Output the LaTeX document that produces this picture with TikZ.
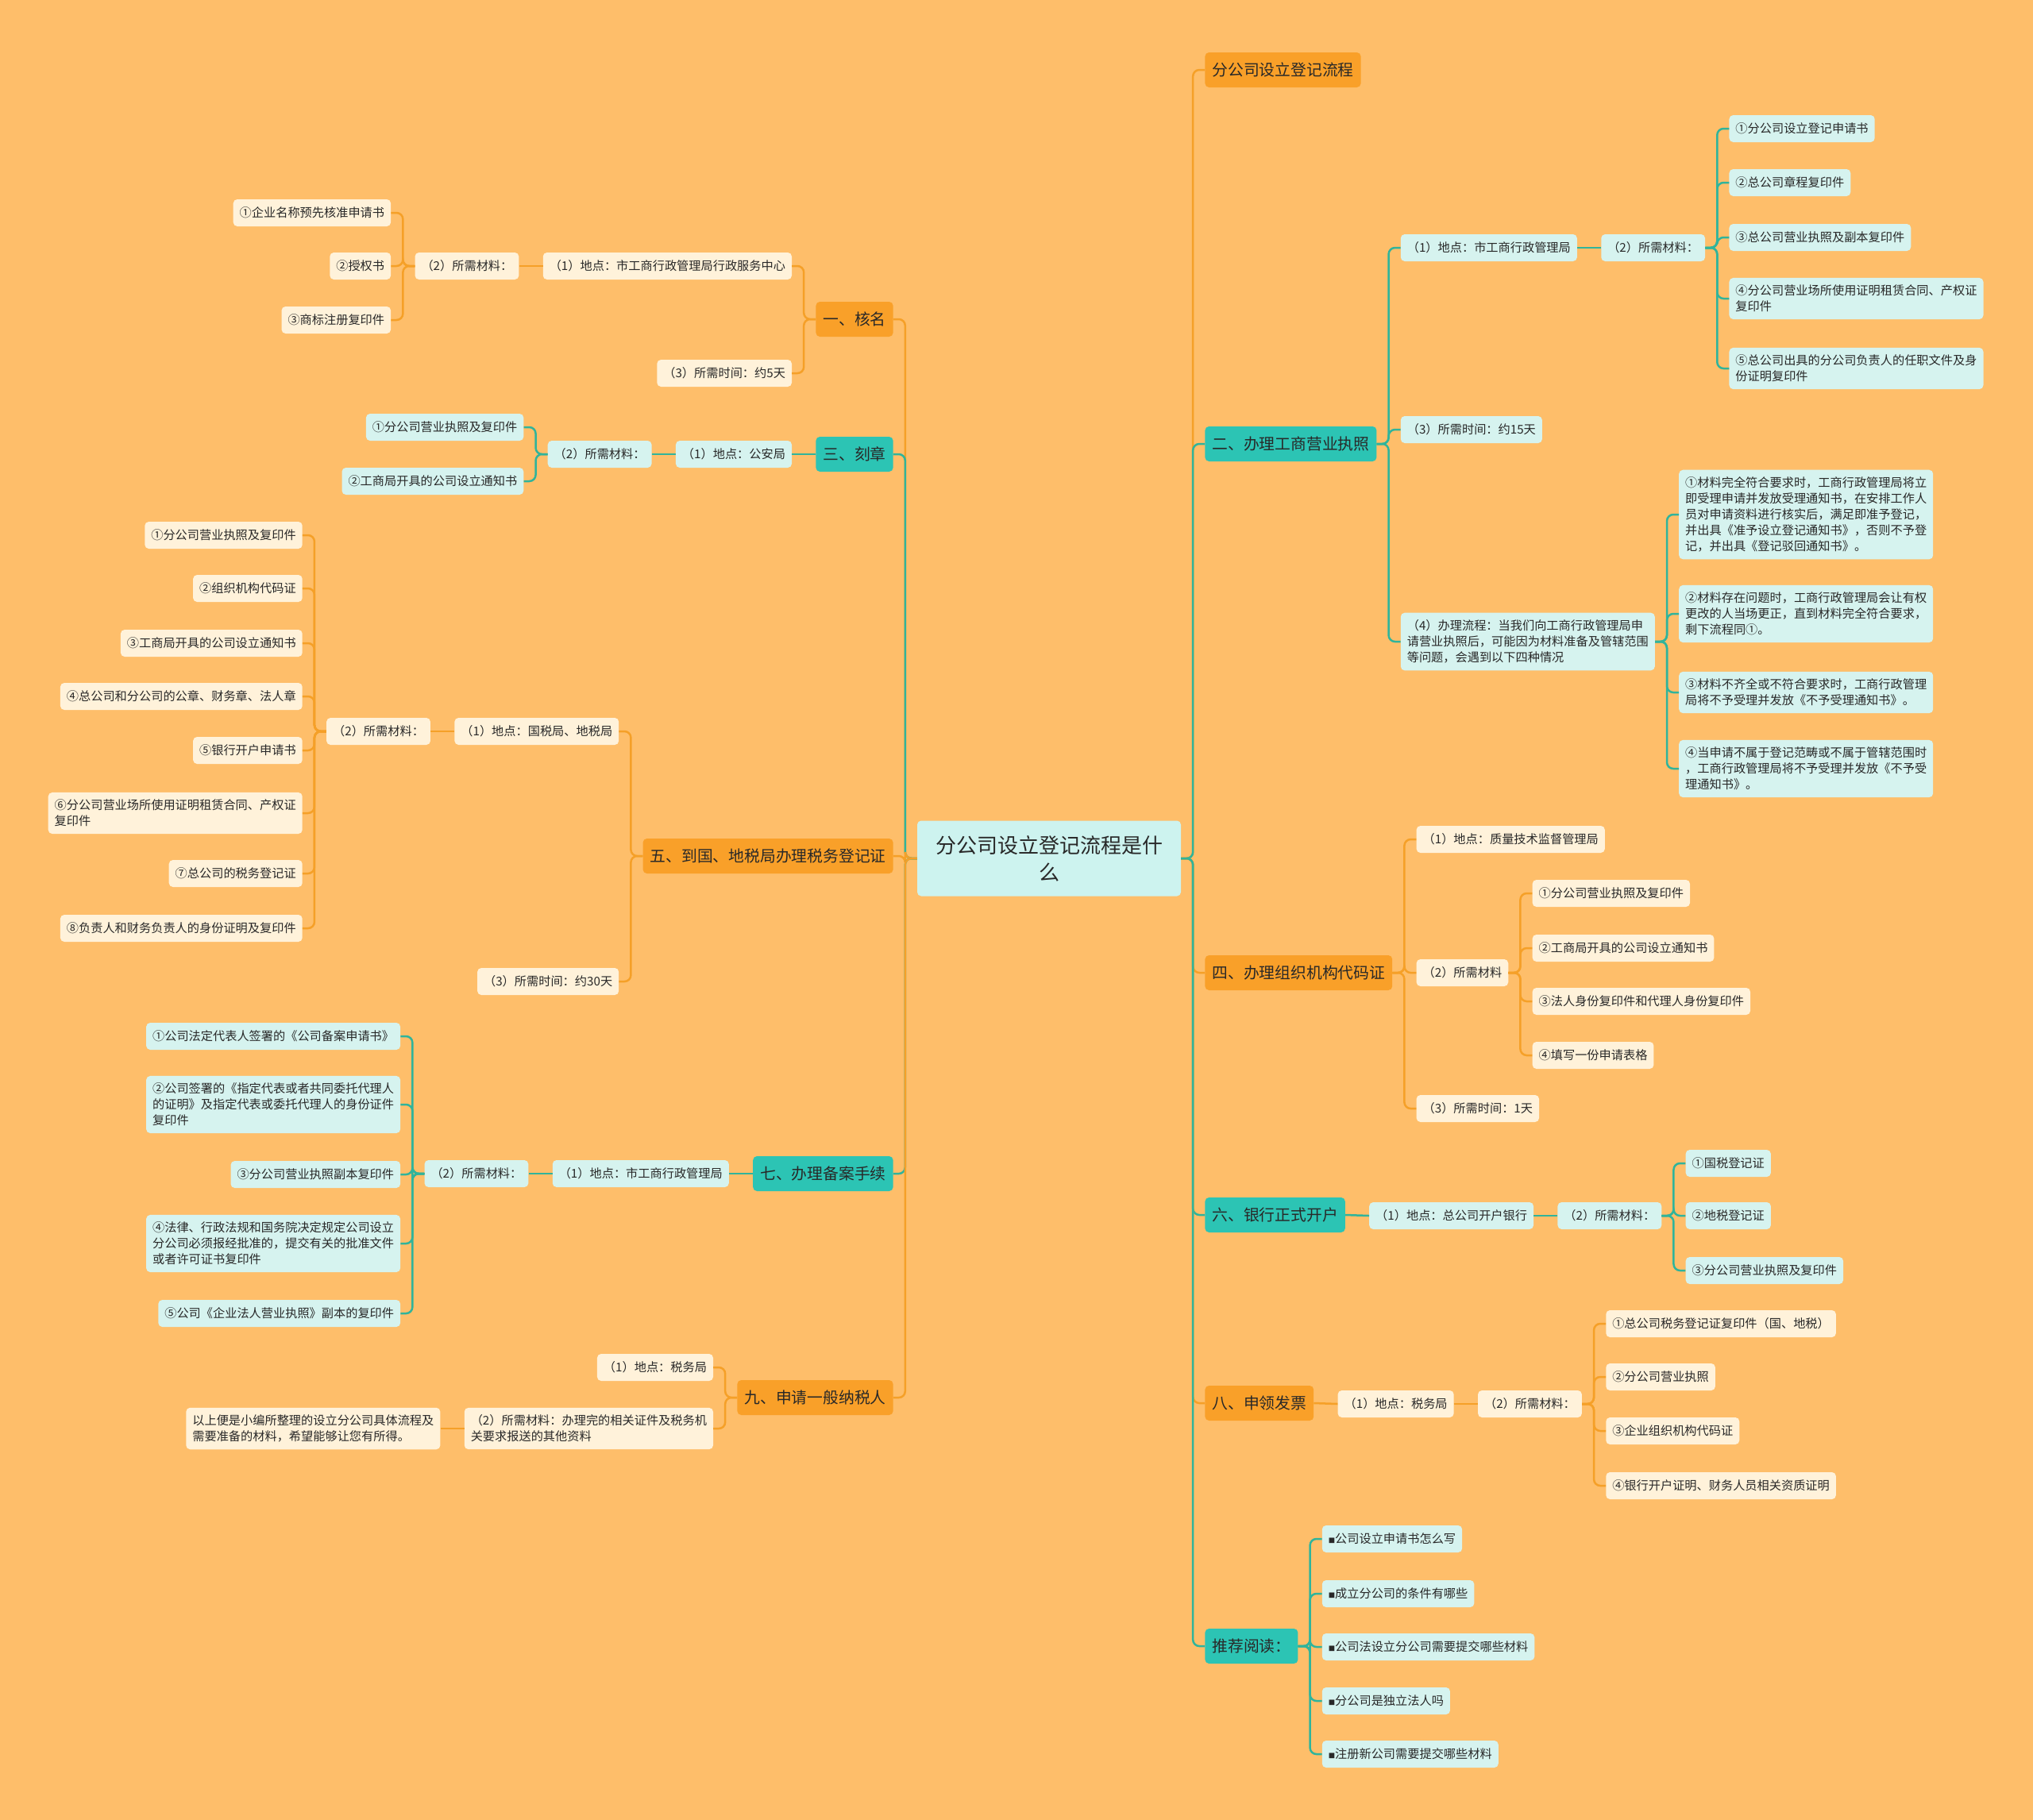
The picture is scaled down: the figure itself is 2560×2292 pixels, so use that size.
\documentclass[tikz,border=0pt]{standalone}
\usepackage{fontspec}
\setmainfont{Noto Sans CJK SC}
\usetikzlibrary{positioning,calc}

\definecolor{paper}{RGB}{254,190,106}
\definecolor{orangenode}{RGB}{249,160,41}
\definecolor{tealnode}{RGB}{44,196,180}
\definecolor{orangeline}{RGB}{245,160,40}
\definecolor{tealline}{RGB}{48,180,155}
\definecolor{creamfill}{RGB}{255,242,218}
\definecolor{mintfill}{RGB}{214,243,239}
\definecolor{rootfill}{RGB}{205,243,239}
\definecolor{ink}{RGB}{40,40,40}

\newcommand{\blt}{\scalebox{0.55}{■}}

\begin{document}
\begin{tikzpicture}[
    x=1pt, y=-1pt,
    font=\fontsize{15.2}{20}\selectfont,
    box/.style={rounded corners=5pt, text=ink, inner xsep=8pt, inner ysep=9pt,
                minimum height=34pt, align=left},
    rootbox/.style={box, fill=rootfill, font=\fontsize{26}{34}\selectfont,
                    minimum width=332pt, minimum height=95pt, align=center},
    topo/.style={box, fill=orangenode, font=\fontsize{19.8}{24}\selectfont,
                 minimum height=44pt, inner xsep=9pt, inner ysep=6pt},
    topt/.style={topo, fill=tealnode},
    leafo/.style={box, fill=creamfill},
    leaft/.style={box, fill=mintfill},
    lo/.style={draw=orangeline, line width=2.5pt, rounded corners=8pt},
    lt/.style={lo, draw=tealline},
  ]
    \fill[paper] (0,0) rectangle (2560,2292);
    \useasboundingbox (0,0) rectangle (2560,2292);

    % Central hub
    \node[rootbox] (flow) at (1321,1081) {分公司设立登记流程是什\\么};

    % Right branches
    \node[topo, anchor=west] (reg)  at ($(flow.east |- 0,88)+(30,0)$)   {分公司设立登记流程};
    \node[topt, anchor=west] (lic)  at ($(flow.east |- 0,559)+(30,0)$)  {二、办理工商营业执照};
    \node[topo, anchor=west] (org)  at ($(flow.east |- 0,1225)+(30,0)$) {四、办理组织机构代码证};
    \node[topt, anchor=west] (bank) at ($(flow.east |- 0,1530)+(30,0)$) {六、银行正式开户};
    \node[topo, anchor=west] (inv)  at ($(flow.east |- 0,1767)+(30,0)$) {八、申领发票};
    \node[topt, anchor=west] (read) at ($(flow.east |- 0,2073)+(30,0)$) {推荐阅读：};

    % Left branches
    \node[topo, anchor=east] (name) at ($(flow.west |- 0,402)+(-30,0)$)  {一、核名};
    \node[topt, anchor=east] (seal) at ($(flow.west |- 0,572)+(-30,0)$)  {三、刻章};
    \node[topo, anchor=east] (tax)  at ($(flow.west |- 0,1078)+(-30,0)$) {五、到国、地税局办理税务登记证};
    \node[topt, anchor=east] (file) at ($(flow.west |- 0,1478)+(-30,0)$) {七、办理备案手续};
    \node[topo, anchor=east] (vat)  at ($(flow.west |- 0,1760)+(-30,0)$) {九、申请一般纳税人};

    % Business licence
    \node[leaft, anchor=west] (lic1)  at ($(lic.east |- 0,312)+(30,0)$)   {（1）地点：市工商行政管理局};
    \node[leaft, anchor=west] (lic2)  at ($(lic1.east)+(30,0)$)            {（2）所需材料：};
    \node[leaft, anchor=west] (lic2a) at ($(lic2.east |- 0,162)+(30,0)$)  {①分公司设立登记申请书};
    \node[leaft, anchor=west] (lic2b) at ($(lic2.east |- 0,230)+(30,0)$)  {②总公司章程复印件};
    \node[leaft, anchor=west] (lic2c) at ($(lic2.east |- 0,299)+(30,0)$)  {③总公司营业执照及副本复印件};
    \node[leaft, anchor=west] (lic2d) at ($(lic2.east |- 0,376)+(30,0)$)  {④分公司营业场所使用证明租赁合同、产权证\\复印件};
    \node[leaft, anchor=west] (lic2e) at ($(lic2.east |- 0,464)+(30,0)$)  {⑤总公司出具的分公司负责人的任职文件及身\\份证明复印件};
    \node[leaft, anchor=west] (lic3)  at ($(lic.east |- 0,541)+(30,0)$)   {（3）所需时间：约15天};
    \node[leaft, anchor=west] (lic4)  at ($(lic.east |- 0,808)+(30,0)$)
        {（4）办理流程：当我们向工商行政管理局申\\请营业执照后，可能因为材料准备及管辖范围\\等问题，会遇到以下四种情况};
    \node[leaft, anchor=west] (lic4a) at ($(lic4.east |- 0,648)+(30,0)$)
        {①材料完全符合要求时，工商行政管理局将立\\即受理申请并发放受理通知书，在安排工作人\\员对申请资料进行核实后，满足即准予登记，\\并出具《准予设立登记通知书》，否则不予登\\记，并出具《登记驳回通知书》。};
    \node[leaft, anchor=west] (lic4b) at ($(lic4.east |- 0,773)+(30,0)$)
        {②材料存在问题时，工商行政管理局会让有权\\更改的人当场更正，直到材料完全符合要求，\\剩下流程同①。};
    \node[leaft, anchor=west] (lic4c) at ($(lic4.east |- 0,872)+(30,0)$)
        {③材料不齐全或不符合要求时，工商行政管理\\局将不予受理并发放《不予受理通知书》。};
    \node[leaft, anchor=west] (lic4d) at ($(lic4.east |- 0,968)+(30,0)$)
        {④当申请不属于登记范畴或不属于管辖范围时\\，工商行政管理局将不予受理并发放《不予受\\理通知书》。};

    % Organisation code
    \node[leafo, anchor=west] (org1)  at ($(org.east |- 0,1057)+(30,0)$)  {（1）地点：质量技术监督管理局};
    \node[leafo, anchor=west] (org2)  at ($(org.east |- 0,1225)+(30,0)$)  {（2）所需材料};
    \node[leafo, anchor=west] (org2a) at ($(org2.east |- 0,1125)+(30,0)$) {①分公司营业执照及复印件};
    \node[leafo, anchor=west] (org2b) at ($(org2.east |- 0,1194)+(30,0)$) {②工商局开具的公司设立通知书};
    \node[leafo, anchor=west] (org2c) at ($(org2.east |- 0,1261)+(30,0)$) {③法人身份复印件和代理人身份复印件};
    \node[leafo, anchor=west] (org2d) at ($(org2.east |- 0,1329)+(30,0)$) {④填写一份申请表格};
    \node[leafo, anchor=west] (org3)  at ($(org.east |- 0,1396)+(30,0)$)  {（3）所需时间：1天};

    % Bank account
    \node[leaft, anchor=west] (bank1)  at ($(bank.east |- 0,1531)+(30,0)$)  {（1）地点：总公司开户银行};
    \node[leaft, anchor=west] (bank2)  at ($(bank1.east)+(30,0)$)            {（2）所需材料：};
    \node[leaft, anchor=west] (bank2a) at ($(bank2.east |- 0,1465)+(30,0)$) {①国税登记证};
    \node[leaft, anchor=west] (bank2b) at ($(bank2.east |- 0,1531)+(30,0)$) {②地税登记证};
    \node[leaft, anchor=west] (bank2c) at ($(bank2.east |- 0,1600)+(30,0)$) {③分公司营业执照及复印件};

    % Invoices
    \node[leafo, anchor=west] (inv1)  at ($(inv.east |- 0,1768)+(30,0)$)  {（1）地点：税务局};
    \node[leafo, anchor=west] (inv2)  at ($(inv1.east)+(30,0)$)            {（2）所需材料：};
    \node[leafo, anchor=west] (inv2a) at ($(inv2.east |- 0,1667)+(30,0)$) {①总公司税务登记证复印件（国、地税）};
    \node[leafo, anchor=west] (inv2b) at ($(inv2.east |- 0,1734)+(30,0)$) {②分公司营业执照};
    \node[leafo, anchor=west] (inv2c) at ($(inv2.east |- 0,1802)+(30,0)$) {③企业组织机构代码证};
    \node[leafo, anchor=west] (inv2d) at ($(inv2.east |- 0,1871)+(30,0)$) {④银行开户证明、财务人员相关资质证明};

    % Further reading
    \node[leaft, anchor=west] (read1) at ($(read.east |- 0,1938)+(30,0)$) {\blt 公司设立申请书怎么写};
    \node[leaft, anchor=west] (read2) at ($(read.east |- 0,2007)+(30,0)$) {\blt 成立分公司的条件有哪些};
    \node[leaft, anchor=west] (read3) at ($(read.east |- 0,2074)+(30,0)$) {\blt 公司法设立分公司需要提交哪些材料};
    \node[leaft, anchor=west] (read4) at ($(read.east |- 0,2142)+(30,0)$) {\blt 分公司是独立法人吗};
    \node[leaft, anchor=west] (read5) at ($(read.east |- 0,2209)+(30,0)$) {\blt 注册新公司需要提交哪些材料};

    % Name check
    \node[leafo, anchor=east] (name1)  at ($(name.west |- 0,335)+(-30,0)$)  {（1）地点：市工商行政管理局行政服务中心};
    \node[leafo, anchor=east] (name2)  at ($(name1.west)+(-30,0)$)           {（2）所需材料：};
    \node[leafo, anchor=east] (name2a) at ($(name2.west |- 0,268)+(-30,0)$) {①企业名称预先核准申请书};
    \node[leafo, anchor=east] (name2b) at ($(name2.west |- 0,335)+(-30,0)$) {②授权书};
    \node[leafo, anchor=east] (name2c) at ($(name2.west |- 0,403)+(-30,0)$) {③商标注册复印件};
    \node[leafo, anchor=east] (name3)  at ($(name.west |- 0,470)+(-30,0)$)  {（3）所需时间：约5天};

    % Seal
    \node[leaft, anchor=east] (seal1)  at ($(seal.west |- 0,572)+(-30,0)$)  {（1）地点：公安局};
    \node[leaft, anchor=east] (seal2)  at ($(seal1.west)+(-30,0)$)           {（2）所需材料：};
    \node[leaft, anchor=east] (seal2a) at ($(seal2.west |- 0,538)+(-30,0)$) {①分公司营业执照及复印件};
    \node[leaft, anchor=east] (seal2b) at ($(seal2.west |- 0,606)+(-30,0)$) {②工商局开具的公司设立通知书};

    % Tax registration
    \node[leafo, anchor=east] (tax1)  at ($(tax.west |- 0,921)+(-30,0)$)   {（1）地点：国税局、地税局};
    \node[leafo, anchor=east] (tax2)  at ($(tax1.west)+(-30,0)$)            {（2）所需材料：};
    \node[leafo, anchor=east] (tax2a) at ($(tax2.west |- 0,674)+(-30,0)$)  {①分公司营业执照及复印件};
    \node[leafo, anchor=east] (tax2b) at ($(tax2.west |- 0,741)+(-30,0)$)  {②组织机构代码证};
    \node[leafo, anchor=east] (tax2c) at ($(tax2.west |- 0,810)+(-30,0)$)  {③工商局开具的公司设立通知书};
    \node[leafo, anchor=east] (tax2d) at ($(tax2.west |- 0,877)+(-30,0)$)  {④总公司和分公司的公章、财务章、法人章};
    \node[leafo, anchor=east] (tax2e) at ($(tax2.west |- 0,945)+(-30,0)$)  {⑤银行开户申请书};
    \node[leafo, anchor=east] (tax2f) at ($(tax2.west |- 0,1024)+(-30,0)$) {⑥分公司营业场所使用证明租赁合同、产权证\\复印件};
    \node[leafo, anchor=east] (tax2g) at ($(tax2.west |- 0,1100)+(-30,0)$) {⑦总公司的税务登记证};
    \node[leafo, anchor=east] (tax2h) at ($(tax2.west |- 0,1169)+(-30,0)$) {⑧负责人和财务负责人的身份证明及复印件};
    \node[leafo, anchor=east] (tax3)  at ($(tax.west |- 0,1236)+(-30,0)$)  {（3）所需时间：约30天};

    % Filing
    \node[leaft, anchor=east] (file1)  at ($(file.west |- 0,1478)+(-30,0)$)  {（1）地点：市工商行政管理局};
    \node[leaft, anchor=east] (file2)  at ($(file1.west)+(-30,0)$)            {（2）所需材料：};
    \node[leaft, anchor=east] (file2a) at ($(file2.west |- 0,1305)+(-30,0)$) {①公司法定代表人签署的《公司备案申请书》};
    \node[leaft, anchor=east] (file2b) at ($(file2.west |- 0,1391)+(-30,0)$)
        {②公司签署的《指定代表或者共同委托代理人\\的证明》及指定代表或委托代理人的身份证件\\复印件};
    \node[leaft, anchor=east] (file2c) at ($(file2.west |- 0,1479)+(-30,0)$) {③分公司营业执照副本复印件};
    \node[leaft, anchor=east] (file2d) at ($(file2.west |- 0,1566)+(-30,0)$)
        {④法律、行政法规和国务院决定规定公司设立\\分公司必须报经批准的，提交有关的批准文件\\或者许可证书复印件};
    \node[leaft, anchor=east] (file2e) at ($(file2.west |- 0,1654)+(-30,0)$) {⑤公司《企业法人营业执照》副本的复印件};

    % General taxpayer
    \node[leafo, anchor=east] (vat1)  at ($(vat.west |- 0,1722)+(-30,0)$) {（1）地点：税务局};
    \node[leafo, anchor=east] (vat2)  at ($(vat.west |- 0,1799)+(-30,0)$)
        {（2）所需材料：办理完的相关证件及税务机\\关要求报送的其他资料};
    \node[leafo, anchor=east] (vat2a) at ($(vat2.west)+(-30,0)$)
        {以上便是小编所整理的设立分公司具体流程及\\需要准备的材料，希望能够让您有所得。};

    % Edges from the hub
    \draw[lo] (flow.east) -- ++(15,0) |- (reg.west);
    \draw[lt] (flow.east) -- ++(15,0) |- (lic.west);
    \draw[lo] (flow.east) -- ++(15,0) |- (org.west);
    \draw[lt] (flow.east) -- ++(15,0) |- (bank.west);
    \draw[lo] (flow.east) -- ++(15,0) |- (inv.west);
    \draw[lt] (flow.east) -- ++(15,0) |- (read.west);
    \draw[lo] (flow.west) -- ++(-15,0) |- (name.east);
    \draw[lt] (flow.west) -- ++(-15,0) |- (seal.east);
    \draw[lo] (flow.west) -- ++(-15,0) |- (tax.east);
    \draw[lt] (flow.west) -- ++(-15,0) |- (file.east);
    \draw[lo] (flow.west) -- ++(-15,0) |- (vat.east);

    % Edges, right side
    \draw[lt] (lic.east) -- ++(15,0) |- (lic1.west);
    \draw[lt] (lic.east) -- ++(15,0) |- (lic3.west);
    \draw[lt] (lic.east) -- ++(15,0) |- (lic4.west);
    \draw[lt] (lic1.east) -- (lic2.west);
    \draw[lt] (lic2.east) -- ++(15,0) |- (lic2a.west);
    \draw[lt] (lic2.east) -- ++(15,0) |- (lic2b.west);
    \draw[lt] (lic2.east) -- ++(15,0) |- (lic2c.west);
    \draw[lt] (lic2.east) -- ++(15,0) |- (lic2d.west);
    \draw[lt] (lic2.east) -- ++(15,0) |- (lic2e.west);
    \draw[lt] (lic4.east) -- ++(15,0) |- (lic4a.west);
    \draw[lt] (lic4.east) -- ++(15,0) |- (lic4b.west);
    \draw[lt] (lic4.east) -- ++(15,0) |- (lic4c.west);
    \draw[lt] (lic4.east) -- ++(15,0) |- (lic4d.west);

    \draw[lo] (org.east) -- ++(15,0) |- (org1.west);
    \draw[lo] (org.east) -- ++(15,0) |- (org2.west);
    \draw[lo] (org.east) -- ++(15,0) |- (org3.west);
    \draw[lo] (org2.east) -- ++(15,0) |- (org2a.west);
    \draw[lo] (org2.east) -- ++(15,0) |- (org2b.west);
    \draw[lo] (org2.east) -- ++(15,0) |- (org2c.west);
    \draw[lo] (org2.east) -- ++(15,0) |- (org2d.west);

    \draw[lt] (bank.east) -- (bank1.west);
    \draw[lt] (bank1.east) -- (bank2.west);
    \draw[lt] (bank2.east) -- ++(15,0) |- (bank2a.west);
    \draw[lt] (bank2.east) -- ++(15,0) |- (bank2b.west);
    \draw[lt] (bank2.east) -- ++(15,0) |- (bank2c.west);

    \draw[lo] (inv.east) -- (inv1.west);
    \draw[lo] (inv1.east) -- (inv2.west);
    \draw[lo] (inv2.east) -- ++(15,0) |- (inv2a.west);
    \draw[lo] (inv2.east) -- ++(15,0) |- (inv2b.west);
    \draw[lo] (inv2.east) -- ++(15,0) |- (inv2c.west);
    \draw[lo] (inv2.east) -- ++(15,0) |- (inv2d.west);

    \draw[lt] (read.east) -- ++(15,0) |- (read1.west);
    \draw[lt] (read.east) -- ++(15,0) |- (read2.west);
    \draw[lt] (read.east) -- ++(15,0) |- (read3.west);
    \draw[lt] (read.east) -- ++(15,0) |- (read4.west);
    \draw[lt] (read.east) -- ++(15,0) |- (read5.west);

    % Edges, left side
    \draw[lo] (name.west) -- ++(-15,0) |- (name1.east);
    \draw[lo] (name.west) -- ++(-15,0) |- (name3.east);
    \draw[lo] (name1.west) -- (name2.east);
    \draw[lo] (name2.west) -- ++(-15,0) |- (name2a.east);
    \draw[lo] (name2.west) -- ++(-15,0) |- (name2b.east);
    \draw[lo] (name2.west) -- ++(-15,0) |- (name2c.east);

    \draw[lt] (seal.west) -- (seal1.east);
    \draw[lt] (seal1.west) -- (seal2.east);
    \draw[lt] (seal2.west) -- ++(-15,0) |- (seal2a.east);
    \draw[lt] (seal2.west) -- ++(-15,0) |- (seal2b.east);

    \draw[lo] (tax.west) -- ++(-15,0) |- (tax1.east);
    \draw[lo] (tax.west) -- ++(-15,0) |- (tax3.east);
    \draw[lo] (tax1.west) -- (tax2.east);
    \draw[lo] (tax2.west) -- ++(-15,0) |- (tax2a.east);
    \draw[lo] (tax2.west) -- ++(-15,0) |- (tax2b.east);
    \draw[lo] (tax2.west) -- ++(-15,0) |- (tax2c.east);
    \draw[lo] (tax2.west) -- ++(-15,0) |- (tax2d.east);
    \draw[lo] (tax2.west) -- ++(-15,0) |- (tax2e.east);
    \draw[lo] (tax2.west) -- ++(-15,0) |- (tax2f.east);
    \draw[lo] (tax2.west) -- ++(-15,0) |- (tax2g.east);
    \draw[lo] (tax2.west) -- ++(-15,0) |- (tax2h.east);

    \draw[lt] (file.west) -- (file1.east);
    \draw[lt] (file1.west) -- (file2.east);
    \draw[lt] (file2.west) -- ++(-15,0) |- (file2a.east);
    \draw[lt] (file2.west) -- ++(-15,0) |- (file2b.east);
    \draw[lt] (file2.west) -- ++(-15,0) |- (file2c.east);
    \draw[lt] (file2.west) -- ++(-15,0) |- (file2d.east);
    \draw[lt] (file2.west) -- ++(-15,0) |- (file2e.east);

    \draw[lo] (vat.west) -- ++(-15,0) |- (vat1.east);
    \draw[lo] (vat.west) -- ++(-15,0) |- (vat2.east);
    \draw[lo] (vat2.west) -- (vat2a.east);
\end{tikzpicture}
\end{document}
